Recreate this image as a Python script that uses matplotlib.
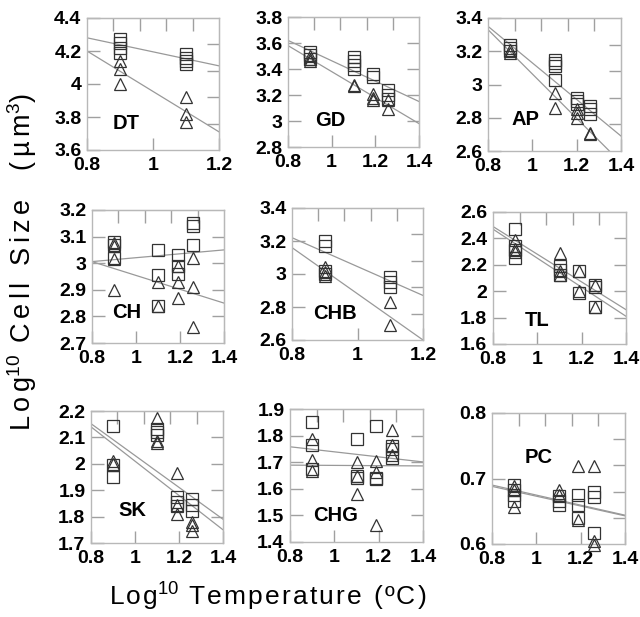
import numpy as np
import matplotlib
matplotlib.use("Agg")
import matplotlib.pyplot as plt
from matplotlib.ticker import FuncFormatter

plt.rcParams['font.family'] = ['Liberation Sans', 'DejaVu Sans']
plt.rcParams['mathtext.fontset'] = 'custom'
plt.rcParams['mathtext.rm'] = 'Liberation Sans'
plt.rcParams['mathtext.it'] = 'Liberation Sans:italic'

# ---- data (log10 temperature vs log10 cell size) ----
panel_names = ['DT', 'GD', 'AP', 'CH', 'CHB', 'TL', 'SK', 'CHG', 'PC']

x_limits = [(0.8, 1.2), (0.8, 1.4), (0.8, 1.4),
            (0.8, 1.4), (0.8, 1.2), (0.8, 1.4),
            (0.8, 1.4), (0.8, 1.4), (0.8, 1.4)]
y_limits = [(3.6, 4.4), (2.8, 3.8), (2.6, 3.4),
            (2.7, 3.2), (2.6, 3.4), (1.6, 2.6),
            (1.7, 2.2), (1.4, 1.9), (0.6, 0.8)]
x_ticks = [[0.8, 1, 1.2], [0.8, 1, 1.2, 1.4], [0.8, 1, 1.2, 1.4],
           [0.8, 1, 1.2, 1.4], [0.8, 1, 1.2], [0.8, 1, 1.2, 1.4],
           [0.8, 1, 1.2, 1.4], [0.8, 1, 1.2, 1.4], [0.8, 1, 1.2, 1.4]]
y_ticks = [[3.6, 3.8, 4, 4.2, 4.4], [2.8, 3, 3.2, 3.4, 3.6, 3.8],
           [2.6, 2.8, 3, 3.2, 3.4], [2.7, 2.8, 2.9, 3, 3.1, 3.2],
           [2.6, 2.8, 3, 3.2, 3.4], [1.6, 1.8, 2, 2.2, 2.4, 2.6],
           [1.7, 1.8, 1.9, 2, 2.1, 2.2], [1.4, 1.5, 1.6, 1.7, 1.8, 1.9],
           [0.6, 0.7, 0.8]]

dt_sq_x = [0.9, 0.9, 0.9, 0.9, 1.1, 1.1, 1.1, 1.1]
dt_sq_y = [4.27, 4.25, 4.22, 4.19, 4.18, 4.16, 4.14, 4.12]
dt_tri_x = [0.9, 0.9, 0.9, 1.1, 1.1, 1.1]
dt_tri_y = [4.14, 4.09, 4.00, 3.92, 3.82, 3.77]

gd_sq_x = [0.9, 0.9, 0.9, 1.1, 1.1, 1.1, 1.1, 1.19, 1.19, 1.26, 1.26, 1.26]
gd_sq_y = [3.53, 3.51, 3.48, 3.49, 3.46, 3.43, 3.40, 3.36, 3.34, 3.24, 3.20, 3.17]
gd_tri_x = [0.9, 0.9, 0.9, 1.1, 1.1, 1.19, 1.19, 1.19, 1.26, 1.26]
gd_tri_y = [3.50, 3.48, 3.46, 3.28, 3.27, 3.21, 3.18, 3.16, 3.16, 3.09]

ap_sq_x = [0.9, 0.9, 0.9, 1.1, 1.1, 1.1, 1.1, 1.2, 1.2, 1.2, 1.26, 1.26, 1.26]
ap_sq_y = [3.24, 3.22, 3.20, 3.15, 3.13, 3.11, 3.03, 2.92, 2.90, 2.88, 2.87, 2.85, 2.82]
ap_tri_x = [0.9, 0.9, 1.1, 1.1, 1.2, 1.2, 1.2, 1.26, 1.26]
ap_tri_y = [3.21, 3.19, 2.95, 2.86, 2.85, 2.83, 2.80, 2.71, 2.70]

ch_sq_x = [0.9, 0.9, 0.9, 1.1, 1.1, 1.1, 1.19, 1.19, 1.19, 1.26, 1.26, 1.26]
ch_sq_y = [3.08, 3.07, 3.02, 3.05, 2.955, 2.84, 3.03, 2.99, 2.96, 3.15, 3.14, 3.07]
ch_tri_x = [0.9, 0.9, 0.9, 0.9, 1.1, 1.1, 1.19, 1.19, 1.19, 1.26, 1.26, 1.26]
ch_tri_y = [3.075, 3.065, 3.015, 2.90, 2.93, 2.84, 2.99, 2.93, 2.87, 3.02, 2.91, 2.76]

chb_sq_x = [0.9, 0.9, 0.9, 0.9, 1.1, 1.1, 1.1]
chb_sq_y = [3.20, 3.17, 3.02, 3.00, 2.98, 2.95, 2.92]
chb_tri_x = [0.9, 0.9, 0.9, 1.1, 1.1]
chb_tri_y = [3.04, 3.01, 2.99, 2.83, 2.69]

tl_sq_x = [0.9, 0.9, 0.9, 0.9, 1.1, 1.1, 1.1, 1.19, 1.19, 1.26, 1.26, 1.26]
tl_sq_y = [2.47, 2.34, 2.31, 2.25, 2.19, 2.16, 2.12, 2.15, 1.99, 2.05, 2.03, 1.88]
tl_tri_x = [0.9, 0.9, 0.9, 1.1, 1.1, 1.1, 1.19, 1.19, 1.26, 1.26]
tl_tri_y = [2.39, 2.32, 2.30, 2.29, 2.15, 2.12, 2.15, 2.00, 2.05, 1.88]

sk_sq_x = [0.9, 0.9, 0.9, 1.1, 1.1, 1.1, 1.19, 1.19, 1.19, 1.26, 1.26, 1.26]
sk_sq_y = [2.145, 1.995, 1.95, 2.13, 2.12, 2.11, 1.875, 1.855, 1.84, 1.865, 1.845, 1.82]
sk_tri_x = [0.9, 0.9, 1.1, 1.1, 1.1, 1.19, 1.19, 1.19, 1.26, 1.26, 1.26]
sk_tri_y = [2.01, 2.00, 2.175, 2.085, 2.08, 1.965, 1.845, 1.81, 1.78, 1.77, 1.745]

chg_sq_x = [0.9, 0.9, 0.9, 1.1, 1.1, 1.1, 1.19, 1.19, 1.19, 1.26, 1.26, 1.26]
chg_sq_y = [1.852, 1.765, 1.673, 1.786, 1.648, 1.642, 1.836, 1.641, 1.635, 1.76, 1.748, 1.714]
chg_tri_x = [0.9, 0.9, 0.9, 1.1, 1.1, 1.1, 1.19, 1.19, 1.19, 1.26, 1.26, 1.26]
chg_tri_y = [1.786, 1.71, 1.666, 1.70, 1.647, 1.58, 1.704, 1.664, 1.463, 1.82, 1.764, 1.727]

pc_sq_x = [0.9, 0.9, 0.9, 0.9, 1.1, 1.1, 1.1, 1.19, 1.19, 1.19, 1.26, 1.26, 1.26]
pc_sq_y = [0.690, 0.683, 0.675, 0.665, 0.673, 0.666, 0.660, 0.675, 0.660, 0.639, 0.680, 0.671, 0.617]
pc_tri_x = [0.9, 0.9, 0.9, 1.1, 1.1, 1.19, 1.19, 1.26, 1.26, 1.26]
pc_tri_y = [0.688, 0.683, 0.656, 0.683, 0.675, 0.719, 0.637, 0.719, 0.604, 0.598]

# fitted lines: value at left and right end of x range
sq_fit = [(4.28, 4.11), (3.62, 3.15), (3.35, 2.69),
          (3.006, 3.05), (3.22, 2.87), (2.49, 1.86),
          (2.152, 1.79), (1.758, 1.701), (0.690, 0.644)]
tri_fit = [(4.20, 3.71), (3.58, 2.98), (3.33, 2.53),
           (3.006, 2.85), (3.16, 2.60), (2.47, 1.81),
           (2.14, 1.75), (1.689, 1.686), (0.688, 0.643)]

squares = [(dt_sq_x, dt_sq_y), (gd_sq_x, gd_sq_y), (ap_sq_x, ap_sq_y),
           (ch_sq_x, ch_sq_y), (chb_sq_x, chb_sq_y), (tl_sq_x, tl_sq_y),
           (sk_sq_x, sk_sq_y), (chg_sq_x, chg_sq_y), (pc_sq_x, pc_sq_y)]
triangles = [(dt_tri_x, dt_tri_y), (gd_tri_x, gd_tri_y), (ap_tri_x, ap_tri_y),
             (ch_tri_x, ch_tri_y), (chb_tri_x, chb_tri_y), (tl_tri_x, tl_tri_y),
             (sk_tri_x, sk_tri_y), (chg_tri_x, chg_tri_y), (pc_tri_x, pc_tri_y)]

# ---- layout (pixel boxes: left, right, top, bottom) ----
W, H = 640, 617
boxes = [(87, 219, 18, 150), (288, 419, 17, 147), (488, 621, 18, 151),
         (92, 224, 210, 343), (292, 423, 208, 340), (493, 626, 212, 344),
         (91, 223, 411, 543), (290, 423, 409, 542), (492, 625, 413, 544)]
label_pos = [(0.30, 0.20), (0.32, 0.20), (0.28, 0.24),
             (0.26, 0.23), (0.33, 0.20), (0.33, 0.18),
             (0.31, 0.25), (0.34, 0.20), (0.35, 0.66)]

frame_col = '#b8b8b8'
tick_col = '#a0a0a0'
line_col = '#999999'
mark_col = '#333333'

fig = plt.figure(figsize=(W / 100, H / 100), dpi=100)

fmt = FuncFormatter(lambda v, p: '%g' % round(v, 3))

for i, name in enumerate(panel_names):
    l, r, t, b = boxes[i]
    ax = fig.add_axes([l / W, 1 - b / H, (r - l) / W, (b - t) / H])
    x0, x1 = x_limits[i]
    y0, y1 = y_limits[i]

    ax.plot([x0, x1], sq_fit[i], color=line_col, lw=0.9, zorder=1)
    ax.plot([x0, x1], tri_fit[i], color=line_col, lw=0.9, zorder=1)

    sx, sy = squares[i]
    tx, ty = triangles[i]
    ax.plot(sx, sy, 's', ms=8, mfc='none', mec=mark_col, mew=0.9,
            clip_on=False, zorder=3)
    ax.plot(tx, ty, '^', ms=8.5, mfc='none', mec=mark_col, mew=0.9,
            clip_on=False, zorder=3)

    ax.set_xlim(x0, x1)
    ax.set_ylim(y0, y1)
    ax.set_xticks(x_ticks[i])
    ax.set_yticks(y_ticks[i])
    ax.xaxis.set_major_formatter(fmt)
    ax.yaxis.set_major_formatter(fmt)
    ax.tick_params(direction='in', length=9, width=1, color=tick_col,
                   labelsize=14, top=False, right=False)
    ax.tick_params(axis='x', pad=5)
    ax.tick_params(axis='y', pad=4)
    for lab in ax.get_xticklabels() + ax.get_yticklabels():
        lab.set_fontweight('bold')

    # top / right axes get five equal divisions
    top = ax.secondary_xaxis('top')
    top.set_xticks(np.linspace(x0, x1, 6)[1:-1])
    top.tick_params(direction='in', length=9, width=1, color=tick_col,
                    labeltop=False)
    right = ax.secondary_yaxis('right')
    right.set_yticks(np.linspace(y0, y1, 6)[1:-1])
    right.tick_params(direction='in', length=9, width=1, color=tick_col,
                      labelright=False)
    for s in [top.spines['top'], right.spines['right']]:
        s.set_color(frame_col)

    for s in ax.spines.values():
        s.set_color(frame_col)
        s.set_linewidth(1)

    ax.text(label_pos[i][0], label_pos[i][1], name, transform=ax.transAxes,
            ha='center', va='center', fontsize=14.5, fontweight='bold')


def spread(s, gap='\u200a'):
    # widen the letter spacing like the original axis titles
    return gap.join(s)


sup10 = r'$^{\mathrm{10}}$'
ylab = (spread('Log', '\u200a\u200a') + sup10
        + spread(' Cell Size  (µm', '\u200a\u200a') + r'$^{\mathrm{3}}$' + ')')
xlab = spread('Log') + sup10 + spread(' Temperature (ºC)')

fig.text(22 / W, 1 - 262 / H, ylab, rotation=90, ha='center', va='center',
         fontsize=19.5)
fig.text(268 / W, 1 - 597 / H, xlab, ha='center', va='center', fontsize=19)

fig.savefig('out.png', dpi=100)
